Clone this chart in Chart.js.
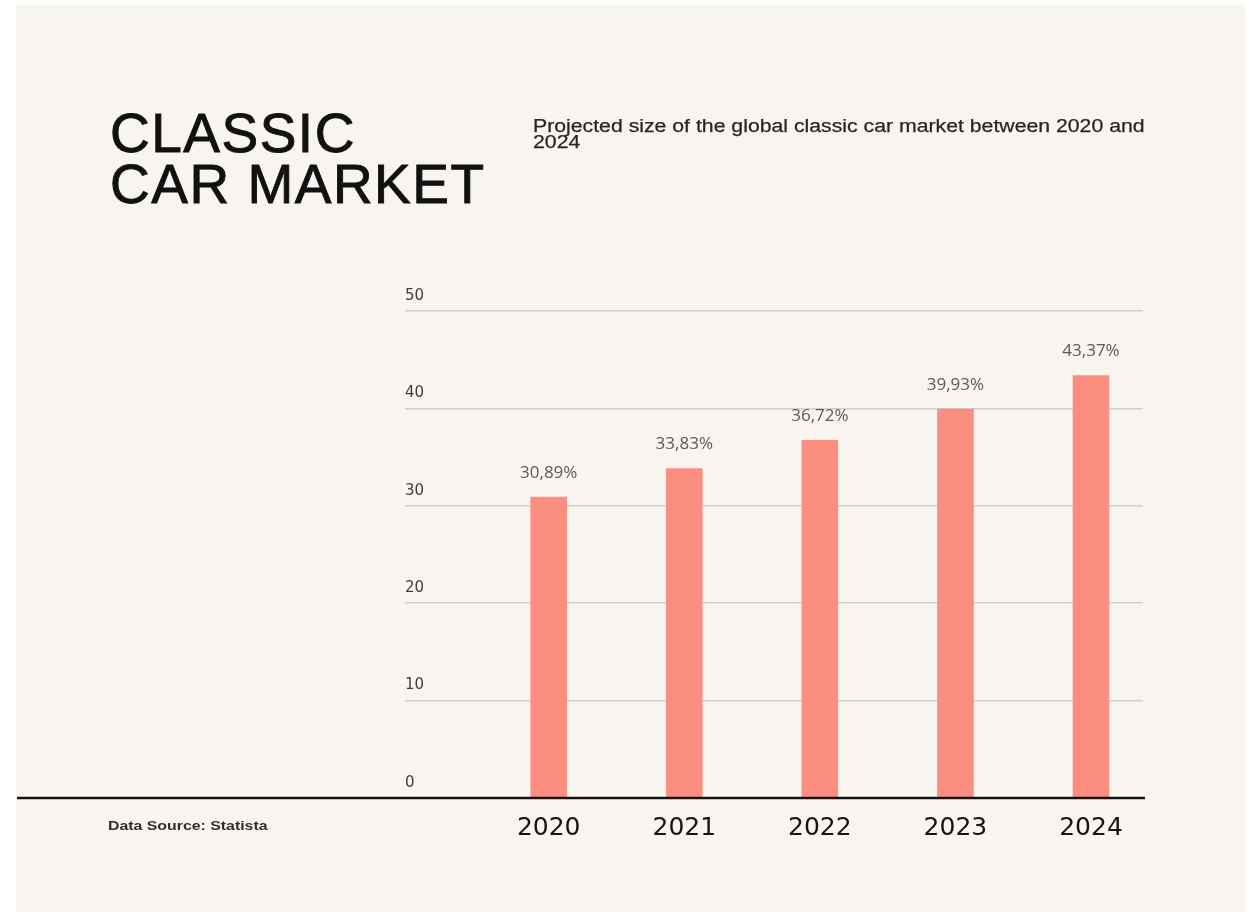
<!DOCTYPE html>
<html>
<head>
<meta charset="utf-8">
<script src="https://cdn.jsdelivr.net/npm/chart.js@4.4.0/dist/chart.umd.min.js"></script>
<style>
  html, body { margin:0; padding:0; background:#ffffff; width:1253px; height:918px; overflow:hidden; }
  #bg { position:absolute; left:16px; top:5px; width:1229px; height:907px; background:#f8f5f1; }
  #chart { position:absolute; left:0; top:0; }
  .title { position:absolute; left:110px; top:108px; font-family:"Liberation Sans", Arial, sans-serif;
           font-size:55px; line-height:51px; color:#111; letter-spacing:1.5px; white-space:nowrap;
           -webkit-text-stroke:0.9px #111; }
  .sub { position:absolute; left:533px; top:118px; font-family:"Liberation Sans", Arial, sans-serif;
         font-size:18px; line-height:16px; color:#262626; transform:scaleX(1.18); transform-origin:0 0; white-space:nowrap;
         -webkit-text-stroke:0.25px #262626; }
  .src { position:absolute; left:108px; top:818px; font-family:"Liberation Sans", Arial, sans-serif;
         font-size:13px; font-weight:bold; line-height:16px; color:#2e2e2e; transform:scaleX(1.22); transform-origin:0 0; white-space:nowrap; }
</style>
</head>
<body>
<div id="bg"></div>
<canvas id="chart" width="1253" height="918"></canvas>
<div class="title">CLASSIC<br>CAR MARKET</div>
<div class="sub">Projected size of the global classic car market between 2020 and<br>2024</div>
<div class="src">Data Source: Statista</div>
<script>
const years = [2020, 2021, 2022, 2023, 2024];
const marketShare = [30.89, 33.83, 36.72, 39.93, 43.37];
const yTicks = [0, 10, 20, 30, 40, 50];

function fmtPct(v) { return v.toFixed(2).replace('.', ',') + '%'; }

const baselinePlugin = {
  id: 'baseline',
  afterDatasetsDraw(chart) {
    const c = chart.ctx;
    const y = chart.scales.y.getPixelForValue(0);
    c.save();
    c.strokeStyle = '#141414';
    c.lineWidth = 2.5;
    c.beginPath();
    c.moveTo(17, y);
    c.lineTo(chart.chartArea.right + 2, y);
    c.stroke();
    c.restore();
  }
};

const valueLabelPlugin = {
  id: 'valueLabels',
  afterDatasetsDraw(chart) {
    const c = chart.ctx;
    const meta = chart.getDatasetMeta(0);
    c.save();
    c.font = '17px "Open Sans", sans-serif';
    c.fillStyle = '#5a5a5a';
    c.textAlign = 'center';
    c.textBaseline = 'middle';
    meta.data.forEach((bar, i) => {
      c.fillText(fmtPct(marketShare[i]), bar.x, bar.y - 24);
    });
    c.restore();
  }
};

new Chart(document.getElementById('chart'), {
  type: 'bar',
  data: {
    datasets: [{
      data: years.map((yr, i) => ({ x: yr, y: marketShare[i] })),
      backgroundColor: '#fb8e7e',
      barThickness: 36
    }]
  },
  options: {
    responsive: false,
    animation: false,
    devicePixelRatio: 1,
    layout: { padding: { left: 405, right: 110, top: 311, bottom: 70 } },
    plugins: { legend: { display: false }, tooltip: { enabled: false } },
    scales: {
      x: {
        type: 'linear',
        offset: false,
        min: 2018.94,
        max: 2024.3835,
        grid: { display: false, drawTicks: false },
        border: { display: false },
        afterBuildTicks: s => { s.ticks = years.map(v => ({ value: v })); },
        afterFit: s => { s.height = 50; },
        ticks: {
          autoSkip: false, maxRotation: 0, padding: 15,
          font: { family: "'DejaVu Sans', sans-serif", size: 25 },
          color: '#151515',
          callback: v => String(v)
        }
      },
      y: {
        min: 0, max: 50,
        afterBuildTicks: s => { s.ticks = yTicks.map(v => ({ value: v })); },
        afterFit: s => { s.width = 0; },
        grid: {
          drawTicks: false,
          lineWidth: 1.5,
          color: ctx => (ctx.tick && ctx.tick.value === 0) ? 'rgba(0,0,0,0)' : '#d2cfcc'
        },
        border: { display: false },
        ticks: {
          mirror: true, padding: 0, labelOffset: -15,
          font: { family: "'DejaVu Sans', sans-serif", size: 15 },
          color: '#3e3e3e'
        }
      }
    }
  },
  plugins: [baselinePlugin, valueLabelPlugin]
});
</script>
</body>
</html>
